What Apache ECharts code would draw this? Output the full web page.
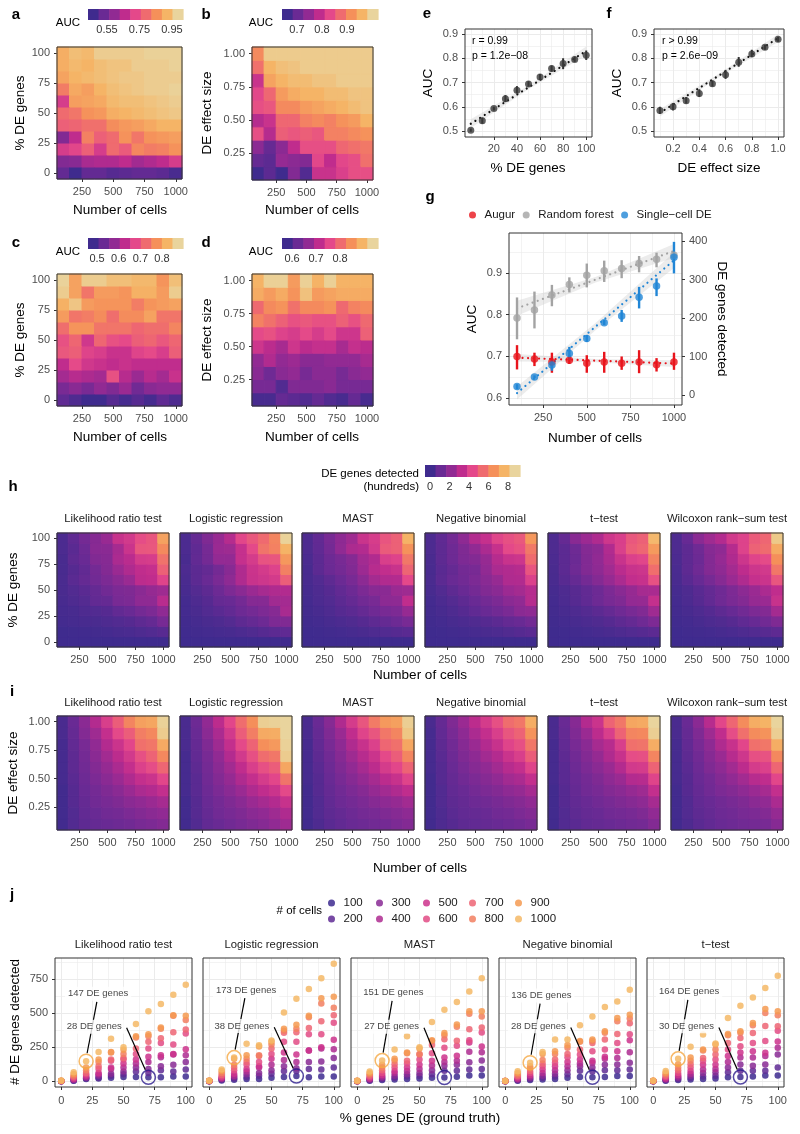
<!DOCTYPE html>
<html><head><meta charset="utf-8">
<script src="https://cdn.jsdelivr.net/npm/echarts@6/dist/echarts.min.js"></script>
<style>html,body{margin:0;padding:0;background:#fff}#c{width:800px;height:1134px}</style>
</head><body><div id="c"></div>
<script>
// ======================= DATA =======================
const cells = [100, 200, 300, 400, 500, 600, 700, 800, 900, 1000];
const pctDE = [0, 10, 20, 30, 40, 50, 60, 70, 80, 90, 100];
const effectSize = [0.1, 0.2, 0.3, 0.4, 0.5, 0.6, 0.7, 0.8, 0.9, 1.0];
const deTests = ['Likelihood ratio test', 'Logistic regression', 'MAST', 'Negative binomial', 't\u2212test', 'Wilcoxon rank\u2212sum test'];

// a: AUC, rows = % DE genes 0..100, cols = cells 100..1000
const aucPctA = [
  [0.52,0.46,0.52,0.52,0.50,0.51,0.52,0.52,0.51,0.48],
  [0.57,0.58,0.63,0.64,0.64,0.66,0.62,0.64,0.66,0.70],
  [0.70,0.72,0.77,0.70,0.79,0.76,0.84,0.82,0.83,0.86],
  [0.57,0.66,0.83,0.77,0.79,0.86,0.81,0.86,0.87,0.88],
  [0.77,0.78,0.80,0.80,0.85,0.87,0.88,0.90,0.92,0.92],
  [0.79,0.81,0.86,0.87,0.91,0.92,0.93,0.94,0.95,0.96],
  [0.70,0.88,0.89,0.90,0.93,0.94,0.94,0.95,0.96,0.97],
  [0.82,0.90,0.88,0.92,0.94,0.95,0.96,0.97,0.97,0.98],
  [0.89,0.92,0.93,0.94,0.95,0.96,0.96,0.97,0.97,0.97],
  [0.91,0.93,0.92,0.94,0.95,0.95,0.97,0.97,0.97,0.98],
  [0.91,0.94,0.93,0.97,0.97,0.97,0.97,0.98,0.98,0.98]
];
// b: AUC, rows = effect size 0.1..1.0
const aucEffB = [
  [0.66,0.69,0.65,0.73,0.68,0.80,0.80,0.82,0.84,0.84],
  [0.70,0.69,0.75,0.74,0.73,0.83,0.79,0.83,0.84,0.88],
  [0.74,0.70,0.74,0.79,0.84,0.84,0.84,0.87,0.88,0.89],
  [0.84,0.78,0.86,0.85,0.86,0.85,0.90,0.90,0.91,0.92],
  [0.78,0.80,0.87,0.87,0.90,0.91,0.90,0.92,0.93,0.96],
  [0.84,0.85,0.91,0.91,0.93,0.94,0.95,0.96,0.97,0.98],
  [0.83,0.87,0.93,0.95,0.96,0.96,0.97,0.97,0.98,0.98],
  [0.80,0.94,0.96,0.97,0.97,0.98,0.98,0.99,0.99,0.99],
  [0.88,0.96,0.975,0.98,0.99,0.99,0.99,0.99,0.99,0.99],
  [0.91,0.99,0.99,0.99,0.99,0.99,0.99,0.99,0.99,0.99]
];
// c
const aucPctC = [
  [0.52,0.50,0.48,0.47,0.51,0.49,0.51,0.49,0.52,0.50],
  [0.55,0.57,0.55,0.58,0.56,0.59,0.54,0.57,0.58,0.58],
  [0.60,0.62,0.61,0.60,0.69,0.62,0.59,0.62,0.60,0.64],
  [0.63,0.68,0.65,0.64,0.63,0.64,0.63,0.63,0.63,0.63],
  [0.70,0.71,0.67,0.66,0.64,0.64,0.67,0.68,0.66,0.71],
  [0.69,0.72,0.65,0.72,0.69,0.68,0.71,0.72,0.70,0.72],
  [0.73,0.78,0.78,0.74,0.74,0.74,0.72,0.73,0.73,0.76],
  [0.79,0.74,0.75,0.77,0.73,0.77,0.77,0.80,0.74,0.74],
  [0.82,0.85,0.79,0.78,0.78,0.78,0.75,0.78,0.79,0.80],
  [0.86,0.80,0.74,0.79,0.79,0.78,0.82,0.82,0.79,0.86],
  [0.87,0.80,0.86,0.86,0.84,0.84,0.83,0.83,0.78,0.84]
];
// d
const aucEffD = [
  [0.59,0.59,0.62,0.61,0.60,0.62,0.60,0.59,0.62,0.59],
  [0.64,0.64,0.60,0.65,0.65,0.65,0.66,0.64,0.64,0.64],
  [0.66,0.63,0.66,0.67,0.64,0.66,0.66,0.64,0.66,0.67],
  [0.67,0.70,0.67,0.68,0.66,0.66,0.67,0.67,0.67,0.69],
  [0.73,0.71,0.69,0.73,0.71,0.72,0.72,0.69,0.72,0.71],
  [0.76,0.77,0.75,0.74,0.76,0.74,0.76,0.73,0.73,0.79],
  [0.83,0.81,0.79,0.77,0.78,0.77,0.77,0.79,0.77,0.80],
  [0.80,0.84,0.85,0.81,0.84,0.84,0.85,0.80,0.83,0.84],
  [0.88,0.86,0.88,0.85,0.91,0.86,0.87,0.88,0.88,0.88],
  [0.89,0.93,0.93,0.86,0.93,0.89,0.93,0.89,0.89,0.89]
];
// e: AUC vs % DE genes
const ePct = [0, 10, 20, 30, 40, 50, 60, 70, 80, 90, 100];
const eAUC = [0.503,0.542,0.593,0.633,0.668,0.694,0.723,0.758,0.778,0.795,0.812];
const eLo  = [0.497,0.530,0.585,0.620,0.655,0.683,0.710,0.745,0.755,0.785,0.793];
const eHi  = [0.510,0.555,0.600,0.648,0.685,0.705,0.735,0.770,0.800,0.807,0.832];
const eFit = [[0, 0.53], [100, 0.83]];
const eBand = [[0, 0.512, 0.548], [50, 0.672, 0.688], [100, 0.812, 0.848]];
// f: AUC vs DE effect size
const fEff = [0.1, 0.2, 0.3, 0.4, 0.5, 0.6, 0.7, 0.8, 0.9, 1.0];
const fAUC = [0.585,0.600,0.625,0.655,0.695,0.732,0.783,0.818,0.845,0.878];
const fLo  = [0.572,0.585,0.613,0.640,0.683,0.715,0.765,0.805,0.835,0.868];
const fHi  = [0.600,0.615,0.640,0.672,0.708,0.752,0.805,0.835,0.855,0.888];
const fFit = [[0.1, 0.575], [1.0, 0.883]];
const fBand = [[0.1, 0.560, 0.590], [0.55, 0.722, 0.736], [1.0, 0.867, 0.899]];
// g
const augurAUC = [0.700,0.694,0.687,0.691,0.684,0.687,0.684,0.687,0.680,0.687];
const augurLo  = [0.669,0.677,0.661,0.682,0.661,0.661,0.668,0.660,0.664,0.668];
const augurHi  = [0.727,0.709,0.709,0.703,0.703,0.711,0.700,0.715,0.696,0.709];
const rfAUC = [0.792,0.811,0.847,0.872,0.894,0.905,0.910,0.922,0.932,0.942];
const rfLo  = [0.741,0.767,0.820,0.853,0.865,0.878,0.887,0.901,0.913,0.930];
const rfHi  = [0.841,0.855,0.871,0.889,0.922,0.929,0.930,0.940,0.948,0.950];
const scDE   = [22,47,78,108,147,188,205,254,283,358];
const scDELo = [15,44,63,91,138,182,190,225,257,316];
const scDEHi = [28,51,91,125,156,195,221,281,303,398];
const augurFit = [[100, 0.697], [1000, 0.683]];
const augurBand = [[100, 0.688, 0.706], [550, 0.686, 0.694], [1000, 0.675, 0.691]];
const rfFit = [[100, 0.815], [1000, 0.952]];
const rfBand = [[100, 0.797, 0.833], [550, 0.877, 0.890], [1000, 0.935, 0.969]];
const scFit = [[100, 5], [1000, 350]];
const scBand = [[100, -12, 22], [550, 168, 187], [1000, 330, 370]];

// h + j: DE genes detected; per test rows = % DE 0..100, cols = cells 100..1000
const dePct = [
 [ // Likelihood ratio test
  [0,0,0,1,1,1,2,2,3,4],[3,5,8,12,18,25,32,42,52,66],[15,20,25,30,40,50,60,80,100,147],
  [20,25,40,50,60,90,110,140,160,215],[25,40,55,90,100,150,160,210,215,312],[30,50,70,100,130,160,170,200,230,249],
  [30,70,100,130,160,200,240,320,330,420],[28,60,90,140,180,240,290,330,345,513],[28,80,110,175,190,280,315,385,395,567],
  [35,70,120,195,200,270,360,480,485,635],[35,85,140,190,235,350,380,450,480,708]],
 [ // Logistic regression
  [0,0,1,1,1,2,2,3,3,5],[5,10,15,20,25,35,45,60,75,86],[10,20,30,40,55,80,100,120,165,173],
  [15,30,50,70,90,120,140,165,190,274],[15,40,60,100,110,140,185,190,255,264],[25,55,80,120,165,200,240,270,290,298],
  [30,75,110,155,210,290,355,370,385,505],[38,75,95,140,195,290,360,385,415,606],[28,90,140,225,225,345,390,470,480,677],
  [35,85,145,240,250,345,440,570,610,757],[35,100,170,235,305,430,485,540,620,862]],
 [ // MAST
  [0,0,0,1,1,1,2,2,2,4],[3,6,10,15,22,30,40,50,60,70],[8,15,25,35,45,60,80,100,120,151],
  [12,25,40,60,75,100,125,150,165,232],[15,35,50,75,100,130,150,205,210,330],[20,40,60,90,120,160,195,200,240,249],
  [25,50,80,115,150,205,265,295,300,435],[27,77,113,140,174,245,308,337,354,525],[33,77,121,150,186,260,296,400,417,581],
  [41,85,138,216,284,300,381,496,513,659],[41,90,151,212,254,358,395,476,513,757]],
 [ // Negative binomial
  [0,0,0,1,1,1,1,2,2,3],[3,6,10,15,22,30,38,48,60,73],[8,15,25,35,45,60,75,95,110,136],
  [12,25,40,60,85,110,130,155,200,215],[15,35,55,80,110,135,160,200,220,306],[25,50,80,110,140,175,200,245,265,306],
  [30,77,110,130,160,196,232,290,295,410],[28,70,100,135,150,220,280,295,306,476],[30,80,120,164,180,232,306,355,366,545],
  [38,80,122,170,220,281,347,440,464,586],[38,85,135,212,300,344,425,460,488,672]],
 [ // t-test
  [0,0,0,1,1,1,2,2,3,4],[3,6,10,15,22,30,40,50,62,75],[8,15,25,35,45,60,80,100,125,164],
  [12,25,40,55,75,100,125,150,174,252],[15,35,60,85,120,150,170,225,232,342],[20,40,65,90,120,160,196,232,270,276],
  [28,65,100,140,184,232,281,337,347,464],[30,77,122,174,210,257,317,355,366,554],[35,77,113,174,220,281,354,410,428,615],
  [41,77,122,184,208,295,405,501,530,684],[41,100,196,245,291,371,403,484,513,774]],
 [ // Wilcoxon rank-sum test
  [0,0,0,1,1,1,2,2,3,4],[3,7,11,16,24,32,42,52,65,80],[9,16,27,38,48,64,85,105,130,170],
  [12,27,42,58,80,105,130,160,180,265],[16,37,62,90,125,155,180,230,240,350],[21,42,68,95,125,165,205,240,280,330],
  [28,68,105,145,190,240,290,345,360,480],[31,80,125,180,215,265,325,365,380,580],[36,80,118,180,228,290,365,420,445,650],
  [42,80,125,190,215,305,415,515,545,730],[42,105,200,252,300,380,415,495,530,830]]
];
// i: DE genes detected; rows = effect size 0.1..1.0
const deEff = [
 [[10,50,80,100,110,120,130,150,160,180],[10,50,90,110,130,140,160,180,200,220],[10,60,100,130,150,170,200,220,240,270],
  [10,60,110,140,170,200,240,280,300,340],[20,70,120,160,200,240,290,340,360,430],[20,80,130,180,230,280,340,410,450,530],
  [20,80,140,200,260,320,380,460,520,630],[20,90,150,220,300,360,430,560,580,730],[30,100,180,250,340,440,500,600,630,840],
  [30,110,200,300,400,500,620,700,720,860]],
 [[10,50,90,110,130,150,170,190,220,250],[10,60,100,130,150,170,200,220,250,290],[10,60,110,140,170,200,240,270,300,350],
  [20,70,120,160,200,240,290,330,360,440],[20,70,130,180,230,290,340,390,430,570],[20,80,140,200,260,330,400,460,500,720],
  [20,90,150,220,300,380,460,550,580,840],[30,100,170,250,340,440,520,650,680,860],[30,110,200,280,380,500,600,730,740,870],
  [30,120,220,320,430,550,650,850,860,880]],
 [[10,40,70,90,110,120,130,140,160,180],[10,50,80,100,120,140,150,170,190,210],[10,50,90,120,140,160,190,210,230,260],
  [10,60,100,130,160,190,230,260,290,330],[20,60,110,150,190,230,270,320,350,420],[20,70,120,170,220,270,320,390,430,520],
  [20,80,130,190,250,310,360,440,500,620],[20,90,150,210,290,350,410,530,560,720],[30,100,170,240,330,420,480,580,620,820],
  [30,110,190,290,390,480,590,680,700,850]],
 [[10,40,60,80,90,100,110,120,130,150],[10,40,70,90,100,110,130,140,160,180],[10,50,80,100,120,130,150,170,190,220],
  [10,50,90,110,140,160,180,210,230,270],[10,60,100,130,160,190,220,260,280,340],[20,60,110,150,190,220,260,310,340,420],
  [20,70,120,170,210,260,300,360,400,500],[20,80,130,190,240,300,350,420,460,580],[20,90,150,210,280,340,400,480,520,660],
  [30,100,170,240,320,390,460,550,580,740]],
 [[10,50,70,90,100,110,120,130,140,180],[10,50,80,100,110,130,140,150,170,220],[10,60,90,110,130,150,170,190,210,270],
  [10,60,100,130,150,180,200,230,250,340],[20,70,110,140,170,210,240,300,310,420],[20,70,120,160,200,240,300,380,390,520],
  [20,80,130,180,230,290,350,450,460,620],[20,90,150,200,270,310,400,560,570,740],[30,100,170,240,320,400,520,620,630,850],
  [30,110,190,300,360,520,580,720,730,870]],
 [[10,40,70,90,110,120,130,140,150,190],[10,50,80,100,120,130,150,160,180,230],[10,50,90,110,130,150,170,200,220,280],
  [10,60,100,130,160,180,210,240,270,340],[20,60,110,140,180,220,260,310,330,430],[20,70,120,170,210,260,320,390,410,530],
  [20,80,130,190,240,310,370,460,470,630],[20,90,150,210,290,350,430,560,580,740],[30,100,170,250,330,450,560,640,660,850],
  [30,110,200,310,430,530,640,740,760,880]]
];
// j annotation label anchor points (data units): [upper label, lower label]
const annotPos = [
  [[29.6, 642], [26.5, 400]],
  [[29.6, 670], [26.2, 405]],
  [[29.0, 650], [27.6, 400]],
  [[29.0, 630], [26.6, 403]],
  [[28.8, 657], [26.7, 403]]
];

// ======================= STYLE =======================
const FONT = '"Liberation Sans", Arial, Helvetica, sans-serif';
const PALETTE = ['#3f2b8e','#6a2a94','#912a93','#bf2c8d','#e4488a','#ef6b6f','#f5905a','#f5b466','#e9d49d'];
const CELL_COLORS = ['#3d2a8f','#5f2a94','#882a94','#ae2b90','#cc328c','#e24b85','#ed6574','#f27f60','#f59a51','#f5b866'];

const grid = [], xAxis = [], yAxis = [], series = [], visualMap = [], legend = [], graphic = [];

function addGrid(left, top, width, height, framed) {
  grid.push({left, top, width, height, show: framed, borderColor: '#333333', borderWidth: 1,
    backgroundColor: 'rgba(0,0,0,0)', z: 10});
  return grid.length - 1;
}
function valueAxis(gi, min, max, ticks, o) {
  o = o || {};
  return {
    type: 'value', gridIndex: gi, min, max, position: o.position, scale: true,
    axisLine: {show: false, onZero: false},
    axisTick: {show: o.tick !== false, length: 3, lineStyle: {color: '#333333', width: 1}, customValues: ticks},
    axisLabel: {show: o.label !== false, customValues: ticks, color: '#4d4d4d', fontSize: 11, fontFamily: FONT,
      margin: o.margin == null ? 7 : o.margin, formatter: o.fmt || (v => String(v))},
    splitLine: {show: !!o.split, lineStyle: {color: '#ebebeb', width: o.splitWidth || 1}}
  };
}
const addX = (gi, min, max, ticks, o) => xAxis.push(valueAxis(gi, min, max, ticks, o)) - 1;
const addY = (gi, min, max, ticks, o) => yAxis.push(valueAxis(gi, min, max, ticks, o)) - 1;

function colorbar(left, top, w, h, lo, hi, ticks, fmt) {
  const gi = addGrid(left, top, w, h, false);
  const xi = xAxis.push({type: 'value', gridIndex: gi, min: lo, max: hi,
    axisLine: {show: false, onZero: false}, axisTick: {show: false, customValues: ticks},
    axisLabel: {customValues: ticks, formatter: fmt, color: '#333', fontSize: 11, fontFamily: FONT, margin: 4},
    splitLine: {show: false}}) - 1;
  const yi = yAxis.push({type: 'value', gridIndex: gi, min: 0, max: 1, show: false}) - 1;
  const bw = (hi - lo) / PALETTE.length;
  series.push({type: 'custom', xAxisIndex: xi, yAxisIndex: yi, silent: true,
    data: PALETTE.map((c, i) => [lo + (i + 0.5) * bw, 0.5, i]), encode: {x: 0, y: 1},
    renderItem: (p, api) => {
      const i = api.value(2);
      const a = api.coord([lo + i * bw, 1]), b = api.coord([lo + (i + 1) * bw, 0]);
      return {type: 'rect', shape: {x: a[0], y: a[1], width: b[0] - a[0] + 0.6, height: b[1] - a[1]}, style: {fill: PALETTE[i]}};
    }});
}
function vmFor(seriesIdx, lo, hi, scale) {
  const half = (hi - lo) / 18;
  visualMap.push({type: 'continuous', show: false, seriesIndex: seriesIdx, dimension: 2,
    min: (lo + half) * scale, max: (hi - half) * scale, inRange: {color: PALETTE}});
}
function heatPanel(left, top, w, h, matrix, rowVals, rowStep, yTicks, yFmt, showY) {
  const gi = addGrid(left, top, w, h, true);
  const xi = addX(gi, 50, 1050, [250, 500, 750, 1000], {position: 'bottom', margin: 7});
  const yi = addY(gi, rowVals[0] - rowStep / 2, rowVals[rowVals.length - 1] + rowStep / 2, yTicks,
    {position: 'left', fmt: yFmt, label: showY, tick: showY, margin: 7});
  const data = [];
  matrix.forEach((row, r) => row.forEach((v, k) => data.push([cells[k], rowVals[r], v])));
  const dy = rowStep / 2;
  series.push({type: 'custom', xAxisIndex: xi, yAxisIndex: yi, silent: true, z: 2, data, encode: {x: 0, y: 1},
    renderItem: (p, api) => {
      const x = api.value(0), y = api.value(1);
      const a = api.coord([x - 50, y + dy]), b = api.coord([x + 50, y - dy]);
      const col = api.visual('color');
      return {type: 'rect', shape: {x: a[0], y: a[1], width: b[0] - a[0], height: b[1] - a[1]},
        style: {fill: col, stroke: col, lineWidth: 1}};
    }});
  return series.length - 1;
}
function bandSeries(xi, yi, band, color) {
  series.push({type: 'custom', xAxisIndex: xi, yAxisIndex: yi, silent: true, z: 1,
    data: band.map(b => [b[0], b[1], b[2]]), encode: {x: 0, y: [1, 2]},
    renderItem: (p, api) => {
      if (p.dataIndex !== 0) return null;
      const top = band.map(b => api.coord([b[0], b[2]]));
      const bot = band.map(b => api.coord([b[0], b[1]])).reverse();
      return {type: 'polygon', shape: {points: top.concat(bot)}, style: {fill: color}};
    }});
}
function fitLine(xi, yi, pts, color) {
  series.push({type: 'line', xAxisIndex: xi, yAxisIndex: yi, data: pts, symbol: 'none', silent: true, z: 2,
    lineStyle: {color, width: 2.2, type: [0.01, 5.5], cap: 'round'}});
}
function errorBars(xi, yi, xs, lo, hi, color, width) {
  series.push({type: 'custom', xAxisIndex: xi, yAxisIndex: yi, silent: true, z: 3,
    data: xs.map((x, i) => [x, lo[i], hi[i]]), encode: {x: 0, y: [1, 2]},
    renderItem: (p, api) => {
      const a = api.coord([api.value(0), api.value(1)]), b = api.coord([api.value(0), api.value(2)]);
      return {type: 'line', shape: {x1: a[0], y1: a[1], x2: b[0], y2: b[1]}, style: {stroke: color, lineWidth: width}};
    }});
}
function points(xi, yi, xs, ys, color, size, name) {
  series.push({type: 'scatter', name, xAxisIndex: xi, yAxisIndex: yi, silent: true, z: 4,
    data: xs.map((x, i) => [x, ys[i]]), symbolSize: size, itemStyle: {color}});
}
function txt(text, x, y, o) {
  o = o || {};
  graphic.push({type: 'text', x, y, rotation: o.rot || 0, silent: true, z: 100,
    style: {text, fill: o.color || '#000', fontSize: o.size || 13.5, fontFamily: FONT,
      fontWeight: o.bold ? 'bold' : 'normal', align: o.align || 'center', verticalAlign: 'middle'}});
}
const pctFmt = v => String(Math.round(v));
const effFmt = v => v.toFixed(2);

// ======================= PANELS a-d =======================
const sA = heatPanel(57, 47, 125, 132, aucPctA, pctDE, 10, [0, 25, 50, 75, 100], pctFmt, true);
const sB = heatPanel(252, 47, 121, 133, aucEffB, effectSize, 0.1, [0.25, 0.5, 0.75, 1.0], effFmt, true);
const sC = heatPanel(57, 274, 125, 132, aucPctC, pctDE, 10, [0, 25, 50, 75, 100], pctFmt, true);
const sD = heatPanel(252, 274, 121, 132, aucEffD, effectSize, 0.1, [0.25, 0.5, 0.75, 1.0], effFmt, true);
vmFor([sA], 0.433, 1.018, 1);
vmFor([sB], 0.640, 1.024, 1);
vmFor([sC], 0.458, 0.897, 1);
vmFor([sD], 0.558, 0.958, 1);
colorbar(88, 9, 95, 11, 0.433, 1.018, [0.55, 0.75, 0.95], v => v.toFixed(2));
colorbar(282, 9, 96, 11, 0.640, 1.024, [0.7, 0.8, 0.9], v => v.toFixed(1));
colorbar(88, 238, 95, 11, 0.458, 0.897, [0.5, 0.6, 0.7, 0.8], v => v.toFixed(1));
colorbar(282, 238, 96, 11, 0.558, 0.958, [0.6, 0.7, 0.8], v => v.toFixed(1));

// ======================= PANEL e =======================
(function () {
  const gi = addGrid(465, 29, 127, 108, true);
  addX(gi, -5, 105, [0, 10, 30, 50, 70, 90], {position: 'top', tick: false, label: false, split: true, splitWidth: 0.6});
  addY(gi, 0.4753, 0.9206, [0.55, 0.65, 0.75, 0.85], {position: 'right', tick: false, label: false, split: true, splitWidth: 0.6});
  const xi = addX(gi, -5, 105, [20, 40, 60, 80, 100], {position: 'bottom', split: true, margin: 6});
  const yi = addY(gi, 0.4753, 0.9206, [0.5, 0.6, 0.7, 0.8, 0.9], {position: 'left', split: true, fmt: v => v.toFixed(1)});
  bandSeries(xi, yi, eBand, 'rgba(200,200,200,0.35)');
  fitLine(xi, yi, eFit, '#111');
  errorBars(xi, yi, ePct, eLo, eHi, '#2e2e2e', 2);
  points(xi, yi, ePct, eAUC, '#3a3a3a', 7);
})();
// ======================= PANEL f =======================
(function () {
  const gi = addGrid(654, 29, 130, 108, true);
  addX(gi, 0.055, 1.045, [0.1, 0.3, 0.5, 0.7, 0.9], {position: 'top', tick: false, label: false, split: true, splitWidth: 0.6});
  addY(gi, 0.4753, 0.9206, [0.55, 0.65, 0.75, 0.85], {position: 'right', tick: false, label: false, split: true, splitWidth: 0.6});
  const xi = addX(gi, 0.055, 1.045, [0.2, 0.4, 0.6, 0.8, 1.0], {position: 'bottom', split: true, margin: 6, fmt: v => v.toFixed(1)});
  const yi = addY(gi, 0.4753, 0.9206, [0.5, 0.6, 0.7, 0.8, 0.9], {position: 'left', split: true, fmt: v => v.toFixed(1)});
  bandSeries(xi, yi, fBand, 'rgba(200,200,200,0.35)');
  fitLine(xi, yi, fFit, '#111');
  errorBars(xi, yi, fEff, fLo, fHi, '#2e2e2e', 2);
  points(xi, yi, fEff, fAUC, '#3a3a3a', 7);
})();
// ======================= PANEL g =======================
(function () {
  const gi = addGrid(509, 233, 173, 172, true);
  addX(gi, 54, 1046, [125, 375, 625, 875], {position: 'top', tick: false, label: false, split: true, splitWidth: 0.6});
  addY(gi, 0.584, 0.995, [0.65, 0.75, 0.85, 0.95], {position: 'right', tick: false, label: false, split: true, splitWidth: 0.6});
  const xi = addX(gi, 54, 1046, [250, 500, 750, 1000], {position: 'bottom', split: true, margin: 7});
  const yi = addY(gi, 0.584, 0.995, [0.6, 0.7, 0.8, 0.9], {position: 'left', split: true, fmt: v => v.toFixed(1)});
  const yr = addY(gi, -26, 421, [0, 100, 200, 300, 400], {position: 'right', margin: 7});
  bandSeries(xi, yi, rfBand, 'rgba(200,200,200,0.35)');
  bandSeries(xi, yi, augurBand, 'rgba(200,200,200,0.35)');
  bandSeries(xi, yr, scBand, 'rgba(200,200,200,0.35)');
  fitLine(xi, yi, rfFit, '#a3a3a3');
  fitLine(xi, yi, augurFit, '#e8141c');
  fitLine(xi, yr, scFit, '#2186d6');
  errorBars(xi, yi, cells, rfLo, rfHi, '#a3a3a3', 2.4);
  errorBars(xi, yi, cells, augurLo, augurHi, '#e8141c', 2.4);
  errorBars(xi, yr, cells, scDELo, scDEHi, '#2186d6', 2.4);
  points(xi, yi, cells, rfAUC, '#a3a3a3', 7.5, 'Random forest');
  points(xi, yi, cells, augurAUC, '#e8141c', 7.5, 'Augur');
  points(xi, yr, cells, scDE, '#2186d6', 7.5, 'Single\u2212cell DE');
  legend.push({left: 469, top: 209, padding: 0, itemWidth: 14, itemHeight: 7, itemGap: 7.5, icon: 'circle',
    selectedMode: false, data: ['Augur', 'Random forest', 'Single\u2212cell DE'],
    textStyle: {fontSize: 11.5, color: '#1a1a1a', fontFamily: FONT, lineHeight: 12}});
})();

// ======================= PANELS h & i =======================
const HI_LEFTS = [57, 180, 302, 425, 548, 671];
const hiSeries = [];
deTests.forEach((name, t) => {
  hiSeries.push(heatPanel(HI_LEFTS[t], 533, 112, 114, dePct[t], pctDE, 10, [0, 25, 50, 75, 100], pctFmt, t === 0));
  hiSeries.push(heatPanel(HI_LEFTS[t], 716, 112, 114, deEff[t], effectSize, 0.1, [0.25, 0.5, 0.75, 1.0], effFmt, t === 0));
  txt(name, HI_LEFTS[t] + 56, 519, {size: 11.3, color: '#1a1a1a'});
  txt(name, HI_LEFTS[t] + 56, 703, {size: 11.3, color: '#1a1a1a'});
});
vmFor(hiSeries, -0.51, 9.23, 100);
colorbar(425, 465, 95, 12, -0.51, 9.23, [0, 2, 4, 6, 8], v => String(Math.round(v)));

// ======================= PANEL j =======================
const J_LEFTS = [55, 203, 351, 499, 647];
for (let t = 0; t < 5; t++) {
  const gi = addGrid(J_LEFTS[t], 958, 137, 129, true);
  addX(gi, -5, 105, [12.5, 37.5, 62.5, 87.5], {position: 'top', tick: false, label: false, split: true, splitWidth: 0.6});
  addY(gi, -43, 905, [125, 375, 625, 875], {position: 'right', tick: false, label: false, split: true, splitWidth: 0.6});
  const xi = addX(gi, -5, 105, [0, 25, 50, 75, 100], {position: 'bottom', split: true, margin: 8});
  const yi = addY(gi, -43, 905, [0, 250, 500, 750], {position: 'left', split: true, label: t === 0, tick: t === 0});
  cells.forEach((c, k) => {
    series.push({type: 'scatter', name: String(c), xAxisIndex: xi, yAxisIndex: yi, silent: true, z: 2,
      data: pctDE.map((p, r) => [p, dePct[t][r][k]]), symbolSize: 6.5,
      itemStyle: {color: CELL_COLORS[k], opacity: 0.85}});
  });
  const v1 = dePct[t][2][9];   // 20 % DE, 1000 cells
  const v2 = dePct[t][7][0];   // 70 % DE, 100 cells
  const L1 = annotPos[t][0], L2 = annotPos[t][1];
  series.push({type: 'line', xAxisIndex: xi, yAxisIndex: yi, silent: true, z: 3, symbol: 'none',
    data: [[L1[0] - 1, L1[1] - 60], [20.8, v1 + 58]], lineStyle: {color: '#000', width: 1.2}});
  series.push({type: 'line', xAxisIndex: xi, yAxisIndex: yi, silent: true, z: 3, symbol: 'none',
    data: [[L2[0] + 26, L2[1] - 8], [67.5, v2 + 55]], lineStyle: {color: '#000', width: 1.2}});
  series.push({type: 'scatter', xAxisIndex: xi, yAxisIndex: yi, silent: true, z: 4, symbolSize: 14,
    data: [{value: [20, v1], itemStyle: {borderColor: '#f5a742'}}, {value: [70, v2], itemStyle: {borderColor: '#2a1a8c'}}],
    itemStyle: {color: 'rgba(0,0,0,0)', borderWidth: 1.5}});
  series.push({type: 'scatter', xAxisIndex: xi, yAxisIndex: yi, silent: true, z: 5, symbol: 'rect', symbolSize: 1,
    itemStyle: {color: 'rgba(0,0,0,0)'},
    label: {show: true, position: 'inside', backgroundColor: '#ffffff', padding: [2, 3], color: '#111',
      fontSize: 9.5, fontFamily: FONT},
    data: [{value: L1, label: {formatter: v1 + ' DE genes'}}, {value: L2, label: {formatter: v2 + ' DE genes'}}]});
  txt(deTests[t], J_LEFTS[t] + 68.5, 945, {size: 11.3, color: '#1a1a1a'});
}
const J_LEG_LEFTS = [328, 376, 423, 469, 515];
for (let c = 0; c < 5; c++) {
  legend.push({orient: 'vertical', left: J_LEG_LEFTS[c], top: 897, padding: 0, itemWidth: 14, itemHeight: 7, itemGap: 4,
    icon: 'circle', selectedMode: false, data: [String(cells[2 * c]), String(cells[2 * c + 1])],
    textStyle: {fontSize: 11.5, color: '#1a1a1a', fontFamily: FONT, lineHeight: 12}});
}

// ======================= TEXT =======================
[['a', 16, 15], ['b', 206, 15], ['c', 16, 243], ['d', 206, 243], ['e', 427, 14], ['f', 609, 14],
 ['g', 430, 197], ['h', 13, 487], ['i', 12, 692], ['j', 12, 895]].forEach(l => txt(l[0], l[1], l[2], {size: 15, bold: true}));
txt('AUC', 68, 23, {size: 11.5}); txt('AUC', 261, 23, {size: 11.5});
txt('AUC', 68, 252, {size: 11.5}); txt('AUC', 261, 252, {size: 11.5});
txt('DE genes detected', 419, 474, {size: 11.5, align: 'right'});
txt('(hundreds)', 419, 487, {size: 11.5, align: 'right'});
const R = Math.PI / 2;
txt('Number of cells', 120, 210); txt('% DE genes', 20, 113, {rot: R});
txt('Number of cells', 312, 210); txt('DE effect size', 207, 113, {rot: R});
txt('Number of cells', 120, 437); txt('% DE genes', 20, 340, {rot: R});
txt('Number of cells', 312, 437); txt('DE effect size', 207, 340, {rot: R});
txt('% DE genes', 528, 168); txt('AUC', 428, 83, {rot: R});
txt('DE effect size', 719, 168); txt('AUC', 617, 83, {rot: R});
txt('r = 0.99', 472, 41, {size: 10.5, align: 'left'}); txt('p = 1.2e\u221208', 472, 56, {size: 10.5, align: 'left'});
txt('r > 0.99', 662, 41, {size: 10.5, align: 'left'}); txt('p = 2.6e\u221209', 662, 56, {size: 10.5, align: 'left'});
txt('Number of cells', 595, 438); txt('AUC', 472, 319, {rot: R}); txt('DE genes detected', 722, 319, {rot: -R});
txt('Number of cells', 420, 675); txt('% DE genes', 13, 590, {rot: R});
txt('Number of cells', 420, 868); txt('DE effect size', 13, 773, {rot: R});
txt('# of cells', 322, 911, {size: 11.5, align: 'right'});
txt('% genes DE (ground truth)', 420, 1118); txt('# DE genes detected', 15, 1022, {rot: R});

// ======================= RENDER =======================
const chart = echarts.init(document.getElementById('c'), null, {renderer: 'canvas', width: 800, height: 1134});
chart.setOption({animation: false, backgroundColor: '#ffffff', textStyle: {fontFamily: FONT},
  grid, xAxis, yAxis, series, visualMap, legend, graphic: {elements: graphic}});
</script></body></html>
